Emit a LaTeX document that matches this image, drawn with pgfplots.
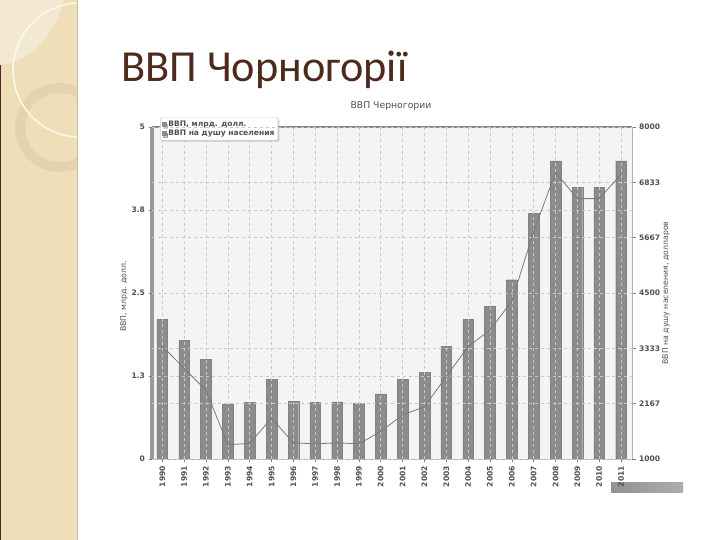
\documentclass[border=0pt]{standalone}
\usepackage{pgfplots}
\pgfplotsset{compat=1.18}
\usepackage{fontspec}
\usetikzlibrary{shadows}
\setmainfont{DejaVu Sans}
\newfontfamily\titlefont{Carlito}
\newfontfamily\chartfont{DejaVu Sans}
\definecolor{strip}{HTML}{EEDFB8}
\definecolor{stripLight}{HTML}{F3E9D2}
\definecolor{stripEdge}{HTML}{CDBF9F}
\definecolor{ringcol}{HTML}{E2D1AB}
\definecolor{titlebrown}{HTML}{4E2A1C}
\definecolor{barcol}{HTML}{8C8C8C}
\definecolor{linecol}{HTML}{7A7A7A}
\definecolor{gridcol}{HTML}{C8C8C8}
\definecolor{plotbg}{HTML}{F4F4F4}
\definecolor{ticktext}{HTML}{505050}
\begin{document}
\begin{tikzpicture}[x=1bp,y=1bp]
\useasboundingbox (0,0) rectangle (720,540);
\fill[white] (0,0) rectangle (720,540);
% decorative slide strip
\fill[strip] (0,0) rectangle (78,540);
\begin{scope}
  \clip (0,0) rectangle (77,540);
  \fill[stripLight] (0,540) -- (0,475) .. controls (30,478) and (58,508) .. (63,540) -- cycle;
  \draw[ringcol, line width=10bp, opacity=0.8] (59.5,412.5) circle (39.5);
  \draw[white!75!strip, line width=1.6bp] (80,470) circle (67);
\end{scope}
\draw[stripEdge, line width=1.5bp] (77.5,0) -- (77.5,540);
\draw[titlebrown, line width=1bp] (0.5,0) -- (0.5,475);
% slide title
\node[anchor=base west, inner sep=0, text=titlebrown,
      font=\titlefont\fontsize{44.5}{50}\selectfont] at (121,458) {ВВП Чорногорії};
% chart title
\node[font=\chartfont\fontsize{9.3}{11}\selectfont, text=ticktext] at (391,434) {ВВП Черногории};
% watermark box
\shade[left color=gray!85, right color=gray!65] (611,47) rectangle (683,57);

\begin{axis}[
  at={(152bp,81bp)}, anchor=south west,
  scale only axis, width=480bp, height=332bp,
  xmin=1989.53, xmax=2011.5, ymin=0, ymax=5,
  clip=false,
  xtick={1990,...,2011},
  ytick={0,1.25,2.5,3.75,5}, yticklabels={0,1.3,2.5,3.8,5},
  xtick pos=left, ytick pos=left,
  tick align=outside, major tick length=3.5bp,
  tick style={gray, line width=0.6bp},
  axis line style={draw=none},
  axis background/.style={fill=plotbg},
  xmajorgrids, ymajorgrids,
  grid style={gridcol, dashed, line width=0.6bp},
  axis on top,
  /pgf/number format/assume math mode=true,
  tick label style={font=\chartfont\bfseries\fontsize{7.6}{9}\selectfont, text=ticktext},
  xticklabel style={rotate=90, anchor=east, /pgf/number format/1000 sep={}},
  ylabel={ВВП, млрд. долл.},
  ylabel style={at={(axis description cs:-0.058,0.49)}, anchor=center,
                font=\chartfont\fontsize{7.8}{9}\selectfont, text=ticktext},
  legend style={at={(axis description cs:0.017,1.03)}, anchor=north west,
                draw=gray!40, fill=white, rounded corners=2bp,
                drop shadow={shadow xshift=1.5bp, shadow yshift=-1.5bp, opacity=0.35},
                font=\chartfont\bfseries\fontsize{7.6}{9}\selectfont, text=ticktext,
                inner sep=1.5bp, row sep=-2bp, cells={anchor=west}},
]
\addplot[ybar, bar width=10.7bp, fill=barcol, draw=barcol!92!black,
         legend image code/.code={\fill[barcol, sharp corners] (0bp,-2bp) rectangle (4bp,2bp);}]
  coordinates {
  (1990,2.10) (1991,1.79) (1992,1.50) (1993,0.82) (1994,0.85) (1995,1.20)
  (1996,0.87) (1997,0.85) (1998,0.86) (1999,0.84) (2000,0.98) (2001,1.20)
  (2002,1.30) (2003,1.70) (2004,2.10) (2005,2.30) (2006,2.70) (2007,3.70)
  (2008,4.49) (2009,4.09) (2010,4.09) (2011,4.49)
  };
\addlegendentry{ВВП, млрд. долл.}
\addlegendimage{legend image code/.code={\fill[barcol, sharp corners] (0bp,-2bp) rectangle (4bp,2bp);}}
\addlegendentry{ВВП на душу населения}
\draw[gray!80, line width=4bp] (rel axis cs:0,0) -- (rel axis cs:0,1);
\draw[gray!95, line width=2.5bp] (rel axis cs:0,1) -- (rel axis cs:1,1);
\draw[gray!60, line width=0.7bp] (rel axis cs:0,0) -- (rel axis cs:1,0);
\end{axis}

\begin{axis}[
  at={(152bp,81bp)}, anchor=south west,
  scale only axis, width=480bp, height=332bp,
  xmin=1989.53, xmax=2011.5, ymin=1000, ymax=8000,
  hide x axis,
  axis y line*=right,
  axis line style={gray!60, line width=0.7bp},
  ytick={1000,2166.67,3333.33,4500,5666.67,6833.33,8000},
  yticklabels={1000,2167,3333,4500,5667,6833,8000},
  tick align=outside, major tick length=3.5bp,
  tick style={gray, line width=0.6bp},
  ymajorgrids,
  grid style={gridcol, dashed, line width=0.6bp},
  /pgf/number format/assume math mode=true,
  tick label style={font=\chartfont\bfseries\fontsize{7.6}{9}\selectfont, text=ticktext},
  ylabel={ВВП на душу населения, долларов},
  ylabel style={at={(axis description cs:1.071,0.5)}, anchor=center, rotate=0,
                font=\chartfont\fontsize{7.8}{9}\selectfont, text=ticktext},
]
\addplot[linecol, line width=0.8bp, mark=none] coordinates {
  (1990,3380) (1991,2910) (1992,2450) (1993,1300) (1994,1330) (1995,1860)
  (1996,1340) (1997,1320) (1998,1340) (1999,1320) (2000,1580) (2001,1930)
  (2002,2100) (2003,2740) (2004,3370) (2005,3720) (2006,4330) (2007,5800)
  (2008,7040) (2009,6490) (2010,6490) (2011,7000)
  };
\end{axis}
\end{tikzpicture}
\end{document}
